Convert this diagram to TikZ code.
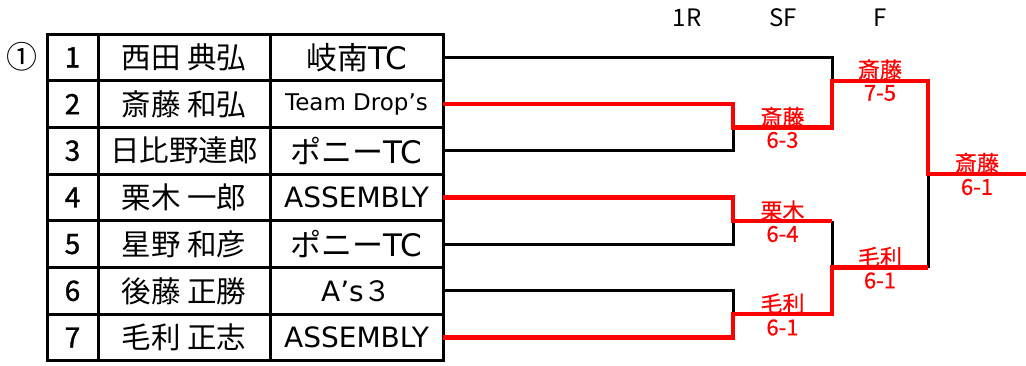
\documentclass[tikz,border=0pt]{standalone}
\usepackage{fontspec}
\setmainfont{DejaVu Sans}
\newfontfamily\jp{Noto Sans CJK JP}
\newfontfamily\jpheavy[FakeBold=1.2]{Noto Sans CJK JP}
\newfontfamily\jpmed[FakeBold=0.5]{Noto Sans CJK JP}
\tikzset{
  cell/.style={draw, line width=3pt, minimum height=46.7pt, inner sep=0pt, outer sep=0pt, anchor=center},
  numcell/.style={cell, minimum width=51pt, font=\jpheavy\fontsize{28}{29}\selectfont},
  namecell/.style={cell, minimum width=172pt, font=\jp\fontsize{29.5}{30}\selectfont},
  clubcell/.style={cell, minimum width=173pt},
  clubbig/.style={font=\fontsize{31}{32}\selectfont},
  clubmid/.style={font=\fontsize{28}{29}\selectfont},
  clubsmall/.style={font=\fontsize{23}{24}\selectfont},
  win/.style={draw=red, line width=4.3pt},
  lose/.style={draw=black, line width=3pt},
  lbl/.style={text=red, font=\jpmed\fontsize{22}{22}\selectfont, inner sep=0pt},
  hdr/.style={font=\jp\fontsize{24}{24}\selectfont, inner sep=0pt}
}
\begin{document}
\begin{tikzpicture}[x=1pt,y=-1pt]
\useasboundingbox (0,0) rectangle (1026,365);
\fill[white] (0,0) rectangle (1026,365);

\node[inner sep=0pt, font=\jp\fontsize{31}{32}\selectfont] (grp) at (22,57) {①};

% headers
\node[hdr] (h1) at (687,18) {1R};
\node[hdr] (h2) at (783,18) {SF};
\node[hdr] (h3) at (880,18) {F};

% table
\node[numcell] (n1) at (72.5,57.35) {1};
\node[numcell] (n2) at (72.5,104.05) {2};
\node[numcell] (n3) at (72.5,150.75) {3};
\node[numcell] (n4) at (72.5,197.45) {4};
\node[numcell] (n5) at (72.5,244.15) {5};
\node[numcell] (n6) at (72.5,290.85) {6};
\node[numcell] (n7) at (72.5,337.55) {7};

\node[namecell] (p1) at (184,57.35) {西田 典弘};
\node[namecell] (p2) at (184,104.05) {斎藤 和弘};
\node[namecell] (p3) at (184,150.75) {日比野達郎};
\node[namecell] (p4) at (184,197.45) {栗木 一郎};
\node[namecell] (p5) at (184,244.15) {星野 和彦};
\node[namecell] (p6) at (184,290.85) {後藤 正勝};
\node[namecell] (p7) at (184,337.55) {毛利 正志};

\node[clubcell, clubbig] (c1) at (356.5,57.35) {{\jp 岐南}TC};
\node[clubcell, clubsmall] (c2) at (356.5,104.05) {Team Drop’s};
\node[clubcell, clubbig] (c3) at (356.5,150.75) {{\jp ポニー}TC};
\node[clubcell, clubmid] (c4) at (356.5,197.45) {ASSEMBLY};
\node[clubcell, clubbig] (c5) at (356.5,244.15) {{\jp ポニー}TC};
\node[clubcell, clubmid] (c6) at (356.5,290.85) {A’s{\jp ３}};
\node[clubcell, clubmid] (c7) at (356.5,337.55) {ASSEMBLY};

% bracket points
\coordinate (j23) at (733,127.4);
\coordinate (j45) at (733,220.8);
\coordinate (j67) at (733,314.2);
\coordinate (s1) at (832,80.7);
\coordinate (s2) at (832,267.5);
\coordinate (fin) at (928,174);
\coordinate (champ) at (1026,174);

% losing lines
\draw[lose] (c1.east) -| (s1);
\draw[lose] (c3.east) -| (j23);
\draw[lose] (c5.east) -| (j45);
\draw[lose] (c6.east) -| (j67);
\draw[lose] (s2 |- j45) -- (s2);
\draw[lose] (fin |- s2) -- (fin);

% winning lines
\draw[win] (c2.east) -| (j23) -- (s1 |- j23) -- (s1) -- (fin |- s1) -- (fin) -- (champ);
\draw[win] (c4.east) -| (j45) -- (s2 |- j45);
\draw[win] (c7.east) -| (j67) -- (s2 |- j67) -- (s2) -- (fin |- s2);

% labels
\node[lbl] (w1) at (782.5,117) {斎藤};
\node[lbl] (r1) at (782.5,140) {6-3};
\node[lbl] (w2) at (782.5,210.5) {栗木};
\node[lbl] (r2) at (782.5,234) {6-4};
\node[lbl] (w3) at (782.5,303.5) {毛利};
\node[lbl] (r3) at (782.5,327.5) {6-1};
\node[lbl] (w4) at (880,69.5) {斎藤};
\node[lbl] (r4) at (880,93) {7-5};
\node[lbl] (w5) at (880,257) {毛利};
\node[lbl] (r5) at (880,280.5) {6-1};
\node[lbl] (w6) at (977,163) {斎藤};
\node[lbl] (r6) at (977,187) {6-1};
\end{tikzpicture}
\end{document}
